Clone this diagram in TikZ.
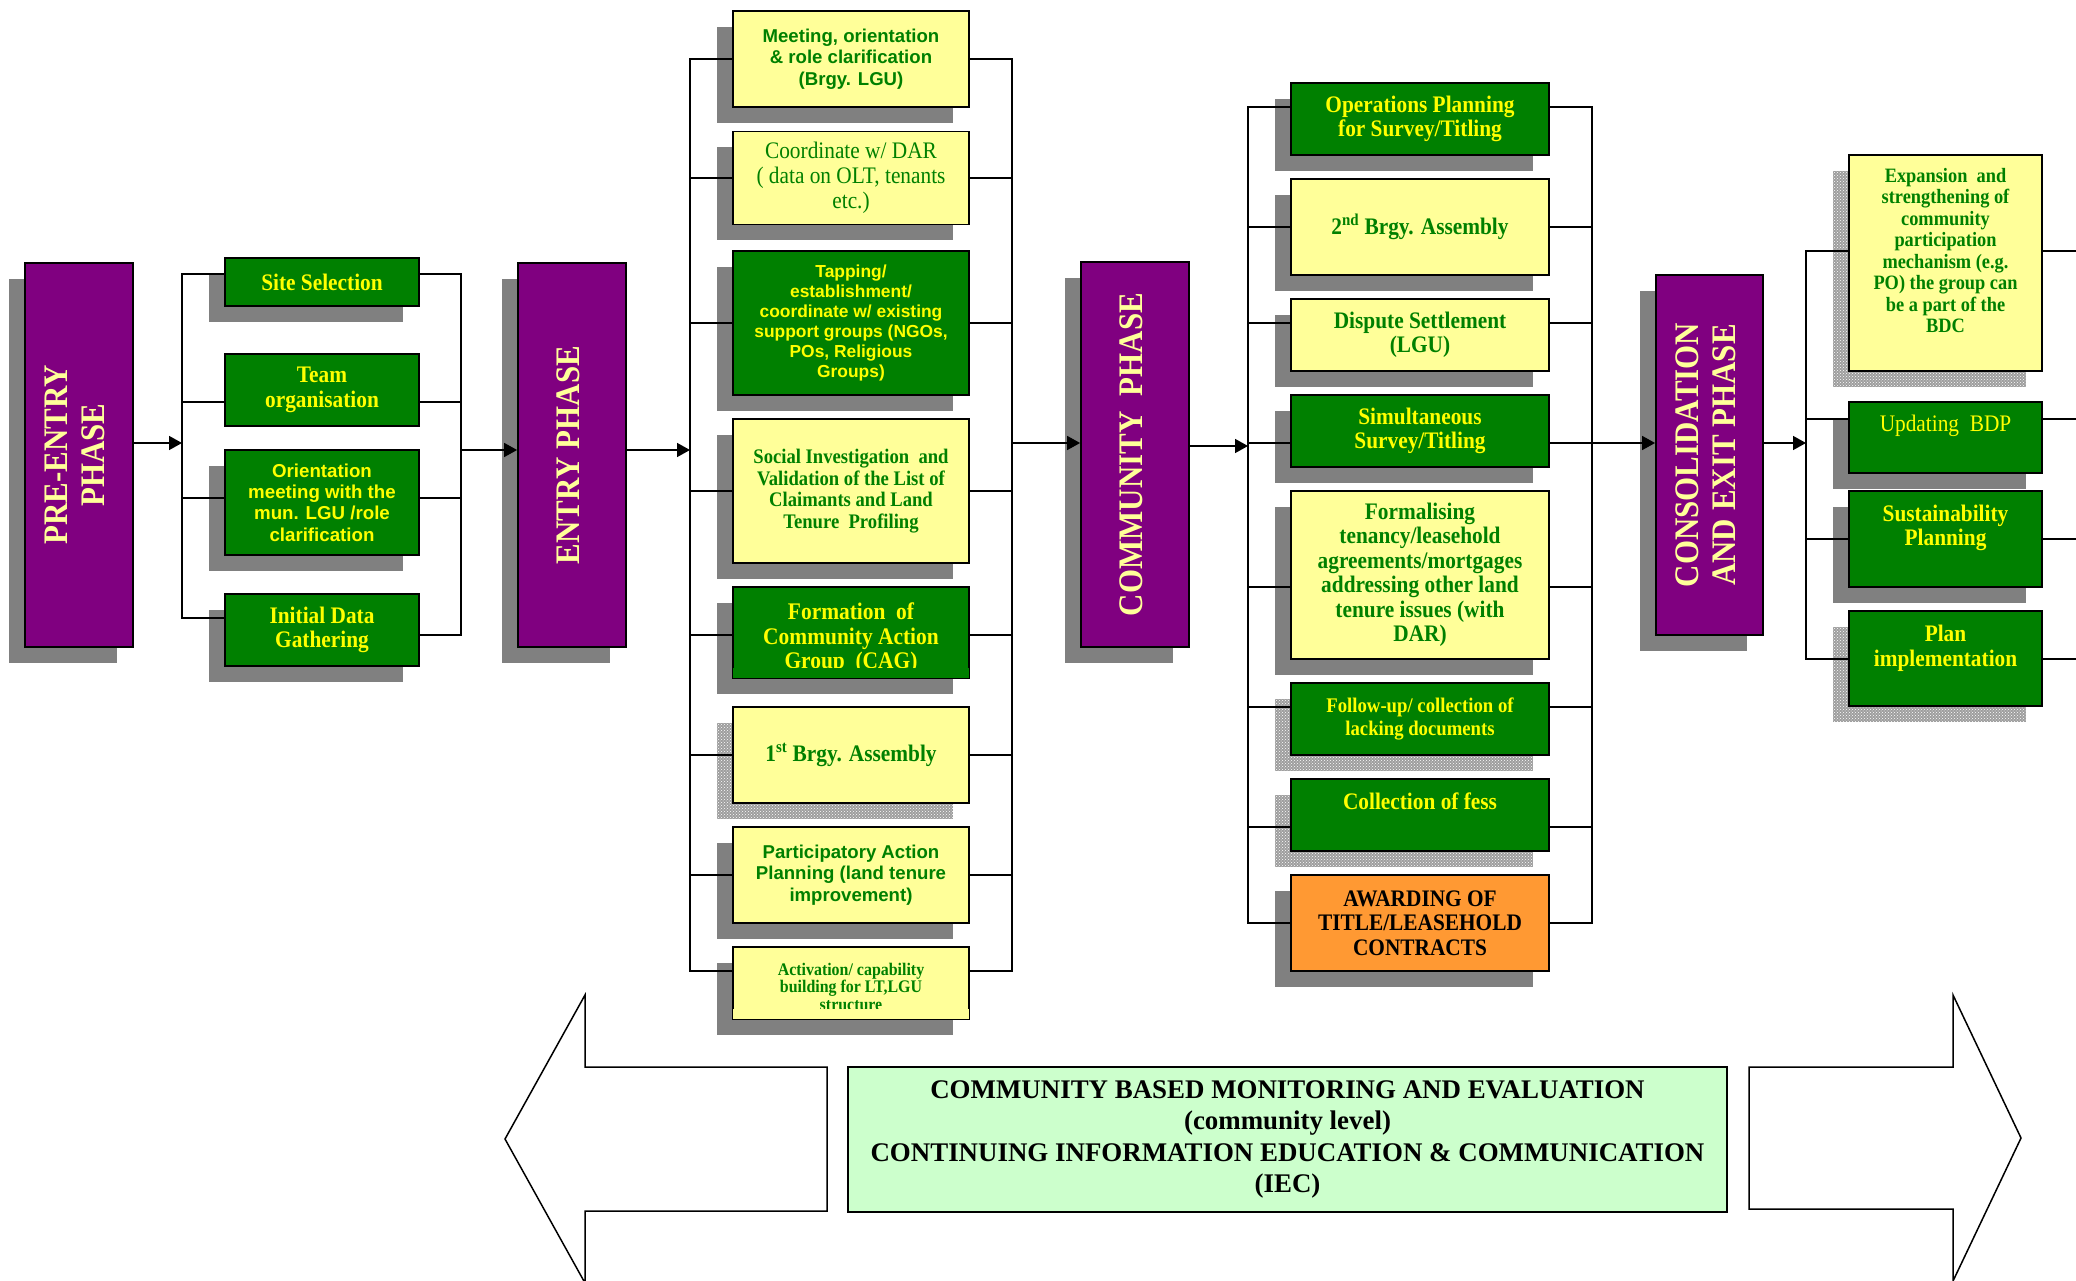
\documentclass[tikz,border=0pt]{standalone}
\usepackage{fontspec}
\usepackage{graphicx}
\setmainfont{Liberation Serif}
\newfontfamily\boxserif{Liberation Serif}[FakeStretch=0.9]
\newfontfamily\arialfont{Liberation Sans}
\usetikzlibrary{arrows.meta,shadows,patterns}

\definecolor{phasepurple}{HTML}{800080}
\definecolor{boxgreen}{HTML}{008000}
\definecolor{boxyellow}{HTML}{FFFF99}
\definecolor{txtyellow}{HTML}{FFFF00}
\definecolor{phasetxt}{HTML}{FFFF99}
\definecolor{awardorange}{HTML}{FF9933}
\definecolor{iecgreen}{HTML}{CCFFCC}
\definecolor{shadowgray}{HTML}{808080}

\newcommand{\vtext}[1]{\rotatebox{90}{\begin{tabular}{@{}c@{}}#1\end{tabular}}}

\tikzset{
  box/.style={draw, line width=1.8pt, inner sep=0pt, align=center},
  greenbox/.style={box, fill=boxgreen, text=txtyellow},
  yellowbox/.style={box, fill=boxyellow, text=boxgreen},
  shd/.style={general shadow={fill=shadowgray, shadow xshift=-16pt, shadow yshift=-16pt}},
  dotshd/.style={general shadow={fill=black!38, shadow xshift=-16pt, shadow yshift=-16pt},
    general shadow={pattern=crosshatch dots, pattern color=white, shadow xshift=-16pt, shadow yshift=-16pt}},
  phasebox/.style={box, shd, fill=phasepurple, text=phasetxt, minimum width=108pt, minimum height=384pt,
    font=\boxserif\fontsize{34.4}{37}\selectfont\bfseries},
  colB/.style={minimum width=194pt},
  colC/.style={minimum width=236pt},
  colD/.style={minimum width=258pt},
  colE/.style={minimum width=193pt},
  conn/.style={line width=1.5pt},
  flow/.style={conn, -{Triangle[length=13pt, width=14pt]}},
  tb/.style={font=\boxserif\fontsize{23.7}{24.5}\selectfont\bfseries},
  tr/.style={font=\boxserif\fontsize{23.7}{24.8}\selectfont},
  ab/.style={font=\arialfont\fontsize{18.6}{21.5}\selectfont\bfseries},
}

\begin{document}
\begin{tikzpicture}[x=1pt, y=-1pt]
\useasboundingbox (0,0) rectangle (2076,1281);

\node[phasebox] (pre) at (79,455) {\vtext{PRE-ENTRY\\PHASE}};
\node[phasebox] (entry) at (572,455) {\vtext{ENTRY PHASE}};
\node[phasebox, minimum height=385pt] (comm) at (1135,454.5) {\vtext{COMMUNITY~~PHASE}};
\node[phasebox, minimum width=107pt, minimum height=360pt] (cons) at (1709.5,455) {\vtext{CONSOLIDATION\\AND EXIT PHASE}};

\node[greenbox, colB, tb, shd, minimum height=48pt] (site) at (322,282) {Site Selection};
\node[greenbox, colB, tb, minimum height=72pt] (team) at (322,390) {Team\\organisation};
\node[greenbox, colB, shd, font=\arialfont\fontsize{18.7}{21.4}\selectfont\bfseries, minimum height=105pt] (orient) at (322,502.5) {Orientation\\meeting with the\\mun. LGU /role\\clarification};
\node[greenbox, colB, tb, shd, minimum height=72pt] (init) at (322,630) {Initial Data\\Gathering};

\node[yellowbox, colC, ab, shd, minimum height=96pt] (meet) at (851,59) {Meeting, orientation\\\& role clarification\\(Brgy. LGU)};
\node[yellowbox, colC, tr, shd, minimum height=93pt] (coord) at (851,178) {Coordinate w/ DAR\\( data on OLT, tenants\\etc.)};
\node[greenbox, colC, shd, font=\arialfont\fontsize{17.4}{20}\selectfont\bfseries, minimum height=144pt] (tap) at (851,323) {Tapping/\\establishment/\\coordinate w/ existing\\support groups (NGOs,\\POs, Religious\\Groups)};
\node[yellowbox, colC, shd, font=\boxserif\fontsize{20.7}{21.4}\selectfont\bfseries, minimum height=144pt] (social) at (851,491) {Social Investigation~ and\\Validation of the List of\\Claimants and Land\\Tenure~ Profiling};
\node[greenbox, colC, shd, font=\boxserif\fontsize{23.8}{24.7}\selectfont\bfseries, minimum height=91pt] (form) at (851,632.5) {\mbox{}\\[3.5pt]Formation~ of\\Community Action\\Group~ (CAG)};
\node[yellowbox, colC, tb, dotshd, minimum height=96pt] (brgy1) at (851,755) {1\textsuperscript{st} Brgy. Assembly};
\node[yellowbox, colC, ab, shd, minimum height=96pt] (pap) at (851,875) {Participatory Action\\Planning (land tenure\\improvement)};
\node[yellowbox, colC, shd, font=\boxserif\fontsize{17.7}{17.8}\selectfont\bfseries, minimum height=72pt] (act) at (851,983) {\mbox{}\\[2pt]Activation/ capability\\building for LT,LGU\\structure};

\node[greenbox, colD, tb, shd, minimum height=72pt] (ops) at (1420,119) {Operations Planning\\for Survey/Titling};
\node[yellowbox, colD, tb, shd, minimum height=96pt] (brgy2) at (1420,227) {2\textsuperscript{nd} Brgy. Assembly};
\node[yellowbox, colD, tb, shd, minimum height=72pt] (disp) at (1420,335) {Dispute Settlement\\(LGU)};
\node[greenbox, colD, tb, shd, minimum height=72pt] (simul) at (1420,431) {Simultaneous\\Survey/Titling};
\node[yellowbox, colD, tb, shd, minimum height=168pt] (formal) at (1420,575) {Formalising\\tenancy/leasehold\\agreements/mortgages\\addressing other land\\tenure issues (with\\DAR)};
\node[greenbox, colD, dotshd, font=\boxserif\fontsize{20.8}{22.3}\selectfont\bfseries, minimum height=72pt] (follow) at (1420,719) {Follow-up/ collection of\\lacking documents};
\node[greenbox, colD, tb, dotshd, minimum height=72pt] (coll) at (1420,815) {Collection of fess\\[4pt]\mbox{}};
\node[box, colD, tb, shd, fill=awardorange, text=black, minimum height=96pt] (award) at (1420,923) {AWARDING OF\\TITLE/LEASEHOLD\\CONTRACTS};

\node[yellowbox, colE, dotshd, font=\boxserif\fontsize{20.4}{21.5}\selectfont\bfseries, minimum height=216pt] (expan) at (1945.5,263) {Expansion~ and\\strengthening of\\community\\participation\\mechanism (e.g.\\PO) the group can\\be a part of the\\BDC\\[4pt]\mbox{}};
\node[greenbox, colE, tr, shd, minimum height=71pt] (upd) at (1945.5,437.5) {Updating~ BDP\\[4pt]\mbox{}};
\node[greenbox, colE, tb, shd, minimum height=96pt] (sust) at (1945.5,539) {Sustainability\\Planning\\[3pt]\mbox{}};
\node[greenbox, colE, tb, dotshd, minimum height=95pt] (plan) at (1945.5,658.5) {Plan\\implementation\\[1pt]\mbox{}};

\fill[boxgreen] ([shift={(1pt,1pt)}]form.south west) rectangle ([shift={(-1pt,11pt)}]form.south east);
\fill[boxyellow] ([shift={(1pt,1pt)}]act.south west) rectangle ([shift={(-1pt,11pt)}]act.south east);

\coordinate (busA) at (182,443);
\coordinate (busB) at (461,443);
\coordinate (busC) at (690,443);
\coordinate (busD) at (1012,443);
\coordinate (busE) at (1248,443);
\coordinate (busF) at (1592,443);
\coordinate (busG) at (1806,443);
\coordinate (busH) at (2076,443);

\draw[conn] ([yshift=8pt]site.west) -| ([yshift=12pt]init.west -| busA) -- ([yshift=12pt]init.west);
\draw[conn] ([yshift=-12pt]team.west) -- ([yshift=-12pt]team.west -| busA);
\draw[conn] ([yshift=4.5pt]orient.west) -- ([yshift=4.5pt]orient.west -| busA);
\draw[conn] ([yshift=8pt]site.east) -| ([yshift=-5pt]init.east -| busB) -- ([yshift=-5pt]init.east);
\draw[conn] ([yshift=-12pt]team.east) -- ([yshift=-12pt]team.east -| busB);
\draw[conn] ([yshift=4.5pt]orient.east) -- ([yshift=4.5pt]orient.east -| busB);

\draw[conn] (meet.west) -| ([yshift=12pt]act.west -| busC) -- ([yshift=12pt]act.west);
\draw[conn] (coord.west) -- (coord.west -| busC);
\draw[conn] (tap.west) -- (tap.west -| busC);
\draw[conn] (social.west) -- (social.west -| busC);
\draw[conn] ([yshift=-2.5pt]form.west) -- ([yshift=-2.5pt]form.west -| busC);
\draw[conn] (brgy1.west) -- (brgy1.west -| busC);
\draw[conn] (pap.west) -- (pap.west -| busC);
\draw[conn] (meet.east) -| ([yshift=12pt]act.east -| busD) -- ([yshift=12pt]act.east);
\draw[conn] (coord.east) -- (coord.east -| busD);
\draw[conn] (tap.east) -- (tap.east -| busD);
\draw[conn] (social.east) -- (social.east -| busD);
\draw[conn] ([yshift=-2.5pt]form.east) -- ([yshift=-2.5pt]form.east -| busD);
\draw[conn] (brgy1.east) -- (brgy1.east -| busD);
\draw[conn] (pap.east) -- (pap.east -| busD);

\draw[conn] ([yshift=12pt]ops.west) -| (award.west -| busE) -- (award.west);
\draw[conn] (brgy2.west) -- (brgy2.west -| busE);
\draw[conn] ([yshift=12pt]disp.west) -- ([yshift=12pt]disp.west -| busE);
\draw[conn] ([yshift=-12pt]simul.west) -- ([yshift=-12pt]simul.west -| busE);
\draw[conn] ([yshift=-12pt]formal.west) -- ([yshift=-12pt]formal.west -| busE);
\draw[conn] ([yshift=12pt]follow.west) -- ([yshift=12pt]follow.west -| busE);
\draw[conn] ([yshift=-12pt]coll.west) -- ([yshift=-12pt]coll.west -| busE);
\draw[conn] ([yshift=12pt]ops.east) -| (award.east -| busF) -- (award.east);
\draw[conn] (brgy2.east) -- (brgy2.east -| busF);
\draw[conn] ([yshift=12pt]disp.east) -- ([yshift=12pt]disp.east -| busF);
\draw[conn] ([yshift=-12pt]simul.east) -- ([yshift=-12pt]simul.east -| busF);
\draw[conn] ([yshift=-12pt]formal.east) -- ([yshift=-12pt]formal.east -| busF);
\draw[conn] ([yshift=12pt]follow.east) -- ([yshift=12pt]follow.east -| busF);
\draw[conn] ([yshift=-12pt]coll.east) -- ([yshift=-12pt]coll.east -| busF);

\draw[conn] ([yshift=12pt]expan.west) -| ([yshift=-0.5pt]plan.west -| busG) -- ([yshift=-0.5pt]plan.west);
\draw[conn] ([yshift=18.5pt]upd.west) -- ([yshift=18.5pt]upd.west -| busG);
\draw[conn] (sust.west) -- (sust.west -| busG);
\draw[conn] ([yshift=12pt]expan.east) -- ([yshift=12pt]expan.east -| busH);
\draw[conn] ([yshift=18.5pt]upd.east) -- ([yshift=18.5pt]upd.east -| busH);
\draw[conn] (sust.east) -- (sust.east -| busH);
\draw[conn] ([yshift=-0.5pt]plan.east) -- ([yshift=-0.5pt]plan.east -| busH);

\draw[flow] ([yshift=12pt]pre.east) -- ([yshift=12pt]pre.east -| busA);
\draw[flow] ([yshift=5pt]entry.west -| busB) -- ([yshift=5pt]entry.west);
\draw[flow] ([yshift=5pt]entry.east) -- ([yshift=5pt]entry.east -| busC);
\draw[flow] ([yshift=11.5pt]comm.west -| busD) -- ([yshift=11.5pt]comm.west);
\draw[flow] ([yshift=8.5pt]comm.east) -- ([yshift=8.5pt]comm.east -| busE);
\draw[flow] ([yshift=12pt]cons.west -| busF) -- ([yshift=12pt]cons.west);
\draw[flow] ([yshift=12pt]cons.east) -- ([yshift=12pt]cons.east -| busG);

\draw[line width=1.5pt] (827,1067) -- (585,1067) -- (585,995) -- (505,1139) -- (585,1283) -- (585,1211) -- (827,1211) -- cycle;
\draw[line width=1.5pt] (1749,1067) -- (1953,1067) -- (1953,995) -- (2021,1138) -- (1953,1281) -- (1953,1209) -- (1749,1209) -- cycle;
\node[box, fill=iecgreen, minimum width=879pt, minimum height=145pt, font=\fontsize{26.9}{31.3}\selectfont\bfseries] (iec) at (1287.5,1139.5) {COMMUNITY BASED MONITORING AND EVALUATION\\(community level)\\CONTINUING INFORMATION EDUCATION \& COMMUNICATION\\(IEC)};
\end{tikzpicture}
\end{document}
